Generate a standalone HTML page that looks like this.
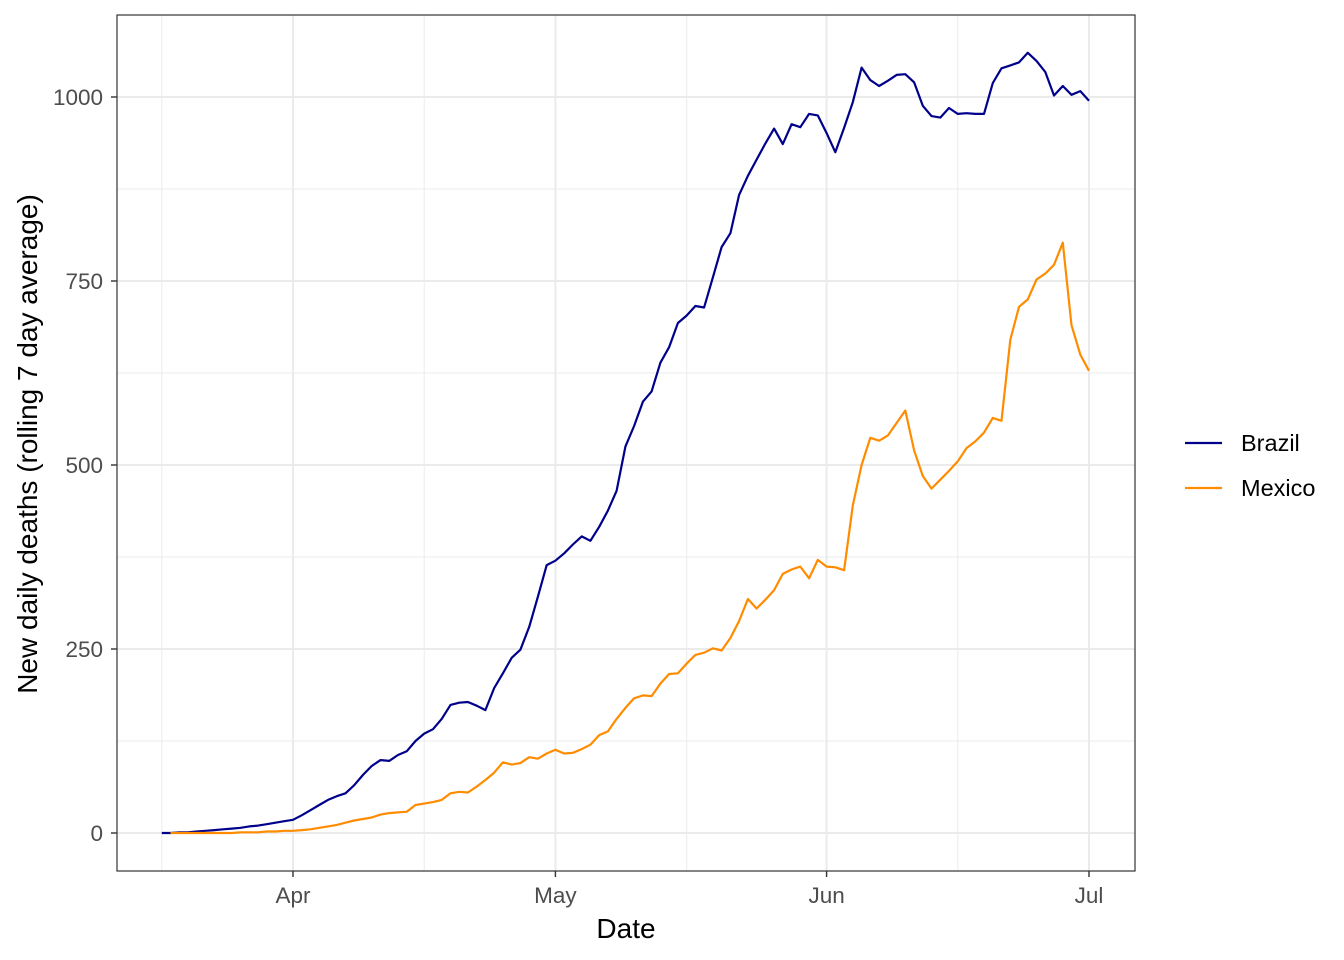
<!DOCTYPE html>
<html><head><meta charset="utf-8"><style>
body{margin:0;background:#fff;font-family:"Liberation Sans",sans-serif}
svg{display:block}
</style></head><body>
<svg id="chart" width="1344" height="960" xmlns="http://www.w3.org/2000/svg"></svg>
<script>
const startBrazil = "2020-03-17";
const startMexico = "2020-03-18";
const brazil = [0,0,1,1,2,3,4,5,6,7,9,10,12,14,16,
18,24,31,38,45,50,54,65,79,91,99,98,106,111,125,135,141,155,174,177,178,173,167,197,217,238,249,280,321,364,
370,380,392,403,397,416,438,465,525,553,586,600,639,660,693,703,716,714,755,796,815,867,893,915,937,957,936,963,959,977,975,
951,925,958,993,1040,1023,1015,1022,1030,1031,1020,988,974,972,985,977,978,977,977,1019,1039,1043,1047,1060,1049,1034,1002,1015,1003,1008,
995];
const mexico = [0,0,0,0,0,0,0,0,1,1,1,2,2,3,
3,4,5,7,9,11,14,17,19,21,25,27,28,29,38,40,42,45,54,56,55,63,72,82,96,93,95,103,101,108,
113,108,109,114,120,133,138,155,170,183,187,186,203,216,217,230,242,245,251,248,265,288,318,305,317,330,352,358,362,346,371,
362,361,357,445,500,537,533,540,557,574,520,485,468,480,492,505,523,532,544,564,560,670,715,725,752,760,772,802,690,650,
628];
const yTicks = [0,250,500,750,1000];
const yMinor = [125,375,625,875];
const xTicks = ["2020-04-01","2020-05-01","2020-06-01","2020-07-01"];
const xTickLabels = ["Apr","May","Jun","Jul"];
const xMinor = ["2020-03-17","2020-04-16","2020-05-16","2020-06-16"];

const NS="http://www.w3.org/2000/svg";
const svg=document.getElementById('chart');
const L=117,R=1135,T=15,B=871;
const day=s=>Date.parse(s+"T00:00:00Z")/86400000;
const d0=day("2020-04-01"), d1=day("2020-07-01");
const x=d=>293+(d-d0)*(1089-293)/(d1-d0);
const y=v=>833-v*(833-97)/1000;
function el(tag,attrs,parent){const e=document.createElementNS(NS,tag);for(const k in attrs)e.setAttribute(k,attrs[k]);(parent||svg).appendChild(e);return e;}

const grid=el('g',{});


yMinor.forEach(v=>el('line',{x1:L,x2:R,y1:y(v),y2:y(v),stroke:'#ebebeb','stroke-width':1},grid));
xMinor.forEach(s=>el('line',{x1:x(day(s)),x2:x(day(s)),y1:T,y2:B,stroke:'#ebebeb','stroke-width':1},grid));
yTicks.forEach(v=>el('line',{x1:L,x2:R,y1:y(v),y2:y(v),stroke:'#ebebeb','stroke-width':2},grid));
xTicks.forEach(s=>el('line',{x1:x(day(s)),x2:x(day(s)),y1:T,y2:B,stroke:'#ebebeb','stroke-width':2},grid));

function series(data,start,color,name){
  const s=day(start);
  const pts=data.map((v,i)=>x(s+i).toFixed(1)+','+y(v).toFixed(1)).join(' ');
  const p=el('polyline',{points:pts,fill:'none',stroke:color,'stroke-width':2.2,'stroke-linejoin':'round'});
  
  
}
series(brazil,startBrazil,'#00008b','brazil-line');
series(mexico,startMexico,'#ff8c00','mexico-line');

const frame=el('rect',{x:L,y:T,width:R-L,height:B-T,fill:'none',stroke:'#333','stroke-width':1.2});



yTicks.forEach(v=>{
  el('line',{x1:L-6,x2:L,y1:y(v),y2:y(v),stroke:'#333','stroke-width':1.4});
  const t=el('text',{x:L-14,y:y(v)+8,'text-anchor':'end','font-size':22.5,fill:'#4d4d4d'});
  t.textContent=v;
  
  
});
xTicks.forEach((s,i)=>{
  const xx=x(day(s));
  el('line',{x1:xx,x2:xx,y1:B,y2:B+6,stroke:'#333','stroke-width':1.4});
  const t=el('text',{x:xx,y:B+32,'text-anchor':'middle','font-size':22.5,fill:'#4d4d4d'});
  t.textContent=xTickLabels[i];
  
  
});
const xt=el('text',{x:626,y:938,'text-anchor':'middle','font-size':28,fill:'#000'});
xt.textContent='Date';


const yt=el('text',{x:0,y:0,transform:'translate(37,444) rotate(-90)','text-anchor':'middle','font-size':28,fill:'#000'});
yt.textContent='New daily deaths (rolling 7 day average)';



[['Brazil','#00008b',443],['Mexico','#ff8c00',488]].forEach(([n,c,yy])=>{
  const g=el('g',{});
  
  
  el('line',{x1:1185,x2:1222,y1:yy,y2:yy,stroke:c,'stroke-width':2.2},g);
  const t=el('text',{x:1241,y:yy+8,'font-size':23.5,fill:'#000'},g);
  t.textContent=n;
});
</script>
</body></html>
